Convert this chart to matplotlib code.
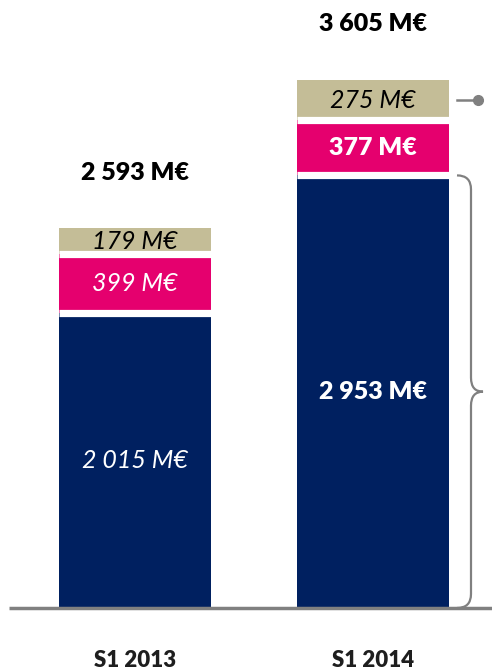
import matplotlib
matplotlib.use("Agg")
import matplotlib.pyplot as plt
from matplotlib.path import Path
from matplotlib.patches import PathPatch

# Données
categories = ["S1 2013", "S1 2014"]
base = [2015, 2953]
middle = [399, 377]
top = [179, 275]
totals = [2593, 3605]
base_labels = ["2 015 M€", "2 953 M€"]
middle_labels = ["399 M€", "377 M€"]
top_labels = ["179 M€", "275 M€"]
total_labels = ["2 593 M€", "3 605 M€"]

navy = "#002060"
pink = "#E5006E"
tan = "#C4BD97"
grey = "#808080"

plt.rcParams["font.family"] = ["Lato", "DejaVu Sans"]

fig = plt.figure(figsize=(4.92, 6.72), dpi=100)
ax = fig.add_axes([0, 64 / 672, 1, 608 / 672])
ax.set_xlim(-135 / 238, 1 + 119 / 238)
ax.set_ylim(0, 608 / 0.1465)
ax.axis("off")

x = [0, 1]
w = 152 / 238
ax.bar(x, base, w, color=navy)
ax.bar(x, middle, w, bottom=base, color=pink)
b2 = [b + m for b, m in zip(base, middle)]
ax.bar(x, top, w, bottom=b2, color=tan)

# séparations blanches
for i in x:
    ax.hlines([base[i], b2[i]], i - w / 2, i + w / 2, colors="white", lw=5.2)

# ligne de base
ax.plot([-126 / 238, 1.5], [0, 0], color=grey, lw=2.5, solid_capstyle="butt", clip_on=False)

# étiquettes
fs = 18
ax.text(0, base[0] / 2, base_labels[0], ha="center", va="center", color="white",
        fontsize=fs, style="italic")
ax.text(1, base[1] / 2, base_labels[1], ha="center", va="center", color="white",
        fontsize=fs, fontweight="heavy")
ax.text(0, base[0] + middle[0] / 2, middle_labels[0], ha="center", va="center",
        color="white", fontsize=fs, style="italic")
ax.text(1, base[1] + middle[1] / 2, middle_labels[1], ha="center", va="center",
        color="white", fontsize=fs, fontweight="heavy")
for i in x:
    ax.text(i, b2[i] + top[i] / 2, top_labels[i], ha="center", va="center",
            color="black", fontsize=fs, style="italic")
    ax.annotate(total_labels[i], (i, totals[i]), xytext=(0, 40), textcoords="offset points",
                ha="center", va="center", fontsize=fs, fontweight="heavy")
    ax.annotate(categories[i], (i, 0), xytext=(0, -38), textcoords="offset points",
                ha="center", va="center", fontsize=16, fontweight="heavy", color="#1E1E1E",
                annotation_clip=False)

# accolade sur la base S1 2014
xs = 1 + w / 2
x1 = xs + 8 / 238
x2 = xs + 22 / 238
x3 = xs + 34 / 238
y0, y1 = 0, base[1]
ym = (y0 + y1) / 2
r = 14 / 0.1465
verts = [(x1, y1), (x2, y1), (x2, y1 - r),
         (x2, ym + r),
         (x2, ym), (x3, ym),
         (x2, ym), (x2, ym - r),
         (x2, y0 + r),
         (x2, y0), (x1, y0)]
codes = [Path.MOVETO, Path.CURVE3, Path.CURVE3,
         Path.LINETO,
         Path.CURVE3, Path.CURVE3,
         Path.CURVE3, Path.CURVE3,
         Path.LINETO,
         Path.CURVE3, Path.CURVE3]
ax.add_patch(PathPatch(Path(verts, codes), fill=False, edgecolor=grey, lw=1.6, clip_on=False))

# repère sur le segment 275 M€
ym_top = b2[1] + top[1] / 2
ax.plot([xs + 8 / 238, xs + 29 / 238], [ym_top, ym_top], color=grey, lw=1.8, clip_on=False)
ax.plot([xs + 29 / 238], [ym_top], "o", color=grey, ms=7, clip_on=False)

fig.savefig("out.png", dpi=100)
